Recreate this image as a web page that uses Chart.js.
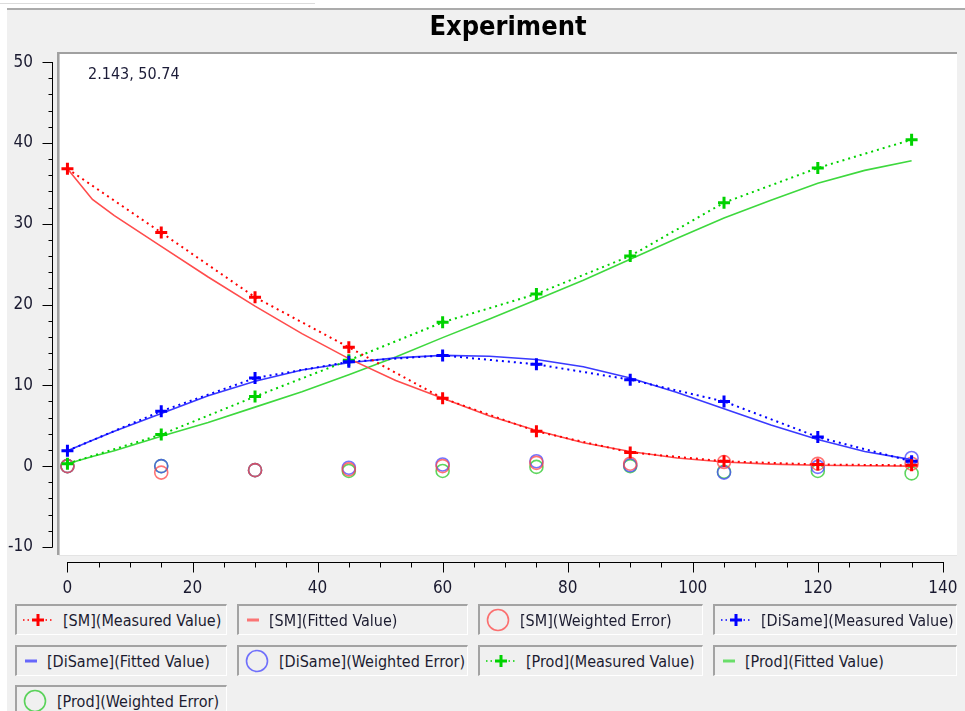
<!DOCTYPE html>
<html>
<head>
<meta charset="utf-8">
<script src="https://cdn.jsdelivr.net/npm/chart.js@4.4.1/dist/chart.umd.min.js"></script>
<style>
  html, body { margin: 0; padding: 0; background: #fff; }
  #wrap { position: relative; width: 965px; height: 711px; overflow: hidden; background: #fff; }
  #topline { position: absolute; left: 0; top: 3px; width: 315px; height: 1px; background: #dcdcdc; }
  #panel { position: absolute; left: 7px; top: 8px; width: 958px; height: 703px; background: #f0f0f0;
           border-top: 2px solid #ababab; box-sizing: border-box; }
  #chart { position: absolute; left: 0; top: 0; }
  .lg { position: absolute; box-sizing: border-box; height: 31px; background: #f0f0f0;
        border-top: 2px solid #a3a3a3; border-left: 2px solid #a3a3a3;
        border-right: 1px solid #ffffff; border-bottom: 1px solid #ffffff;
        display: flex; align-items: center; white-space: nowrap;
        font: 16px 'DejaVu Sans Condensed', 'Liberation Sans', sans-serif; color: #1c1c30; }
  .lg svg { flex: none; margin-right: 10px; }
</style>
</head>
<body>
<div id="wrap">
  <div id="topline"></div>
  <div id="panel"></div>
  <canvas id="chart" width="965" height="605"></canvas>
  <div id="legend"></div>
</div>
<script>
// Sampling times of the measurements
const measuredX = [0, 15, 30, 45, 60, 75, 90, 105, 120, 135];
// Time grid of the fitted model curves
const fitX = [0, 4, 7.5, 15, 22.5, 30, 37.5, 45, 52.5, 60, 67.5, 75, 82.5, 90, 97.5, 105, 112.5, 120, 127.5, 135];

// SM
const smMeasured = [36.8, 28.9, 20.9, 14.7, 8.4, 4.3, 1.7, 0.6, 0.2, 0.1];
const smFitted   = [36.8, 33.0, 31.0, 27.2, 23.4, 19.8, 16.4, 13.3, 10.6, 8.4, 6.2, 4.4, 2.9, 1.8, 1.0, 0.5, 0.25, 0.1, 0.05, 0.0];
const smError    = [0, -0.8, -0.5, -0.4, 0, 0.4, 0.3, 0.5, 0.3, 0.3];

// DiSame
const diMeasured = [1.9, 6.8, 10.9, 12.9, 13.7, 12.6, 10.7, 8.0, 3.6, 0.6];
const diFitted   = [1.9, 3.2, 4.3, 6.5, 8.7, 10.5, 11.9, 12.8, 13.4, 13.7, 13.6, 13.2, 12.3, 10.9, 9.1, 7.1, 5.1, 3.3, 1.8, 0.8];
const diError    = [0, 0, -0.5, -0.2, 0.2, 0.6, 0.1, -0.8, -0.1, 1.0];

// Prod
const prodMeasured = [0.3, 3.9, 8.6, 13.1, 17.8, 21.3, 26.0, 32.6, 36.9, 40.4];
const prodFitted   = [0.3, 1.2, 1.9, 3.7, 5.4, 7.3, 9.2, 11.3, 13.5, 15.9, 18.2, 20.6, 23.0, 25.6, 28.2, 30.7, 32.9, 35.0, 36.6, 37.8];
const prodError    = [0, 0, -0.5, -0.6, -0.6, -0.1, 0, -0.7, -0.6, -0.9];

// Axis ticks
const xTicks = [0, 20, 40, 60, 80, 100, 120, 140];
const yTicks = [-10, 0, 10, 20, 30, 40, 50];

const chartTitle = 'Experiment';
const cursorText = '2.143, 50.74';

const FONT = "'DejaVu Sans Condensed', 'Liberation Sans', sans-serif";

const pts = (xs, ys) => xs.map((x, i) => ({ x: x, y: ys[i] }));

function measured(label, ys, color) {
  return { label, data: pts(measuredX, ys), showLine: true, borderColor: color, backgroundColor: color,
    borderWidth: 2, borderDash: [2, 4], pointStyle: 'cross', pointRadius: 6, pointBorderWidth: 3,
    pointBorderColor: color, pointHoverRadius: 6, tension: 0, order: 0, kind: 'cross' };
}
function fitted(label, ys, color) {
  return { label, data: pts(fitX, ys), showLine: true, borderColor: color, backgroundColor: color,
    borderWidth: 1.6, pointRadius: 0, pointHoverRadius: 0, tension: 0, order: 1, kind: 'line' };
}
function werror(label, ys, color) {
  return { label, data: pts(measuredX, ys), showLine: false, borderColor: color, backgroundColor: 'rgba(0,0,0,0)',
    pointStyle: 'circle', pointRadius: 6.5, pointBorderWidth: 1.6, pointBorderColor: color,
    pointBackgroundColor: 'rgba(0,0,0,0)', pointHoverRadius: 6.5, order: 2, kind: 'circle' };
}

const datasets = [
  measured('[SM](Measured Value)', smMeasured, '#ff0000'),
  fitted('[SM](Fitted Value)', smFitted, '#ff4c4c'),
  werror('[SM](Weighted Error)', smError, 'rgba(255,70,70,0.75)'),
  measured('[DiSame](Measured Value)', diMeasured, '#0000ff'),
  fitted('[DiSame](Fitted Value)', diFitted, '#3a3aff'),
  werror('[DiSame](Weighted Error)', diError, 'rgba(70,70,255,0.75)'),
  measured('[Prod](Measured Value)', prodMeasured, '#00d200'),
  fitted('[Prod](Fitted Value)', prodFitted, '#3ed83e'),
  werror('[Prod](Weighted Error)', prodError, 'rgba(40,200,40,0.75)')
];

// Frame, axis lines, tick marks and the cursor read-out
const framePlugin = {
  id: 'frame',
  beforeDatasetsDraw(chart) {
    const { ctx, chartArea: a } = chart;
    ctx.save();
    ctx.fillStyle = '#ffffff';
    ctx.fillRect(a.left, a.top, a.right - a.left + 1, a.bottom - a.top);
    ctx.fillStyle = '#a0a0a0';
    ctx.fillRect(a.left - 3, a.top - 2, a.right - a.left + 4, 2);
    ctx.fillRect(a.left - 3, a.top - 2, 2, a.bottom - a.top + 2);
    ctx.fillStyle = '#c8c8c8';
    ctx.fillRect(a.left - 1, a.top, 1, a.bottom - a.top);
    ctx.fillStyle = '#e4e4e4';
    ctx.fillRect(a.left - 1, a.bottom, a.right - a.left + 2, 1);
    ctx.restore();
  },
  afterDraw(chart) {
    const { ctx, chartArea: a, scales: { x, y } } = chart;
    ctx.save();
    ctx.strokeStyle = '#000000';
    ctx.lineWidth = 1;
    // vertical axis
    const ax = a.left - 7.5;
    const y0 = y.getPixelForValue(yTicks[0]);
    const y1 = y.getPixelForValue(yTicks[yTicks.length - 1]);
    ctx.beginPath();
    ctx.moveTo(ax, Math.round(y0) + 0.5);
    ctx.lineTo(ax, Math.round(y1));
    for (let v = yTicks[0]; v <= yTicks[yTicks.length - 1]; v += 2) {
      const py = Math.round(y.getPixelForValue(v)) + 0.5;
      const len = (v % 10 === 0) ? 10 : 4;
      ctx.moveTo(ax, py);
      ctx.lineTo(ax - len, py);
    }
    // horizontal axis
    const ay = a.bottom + 7.5;
    const x0 = x.getPixelForValue(xTicks[0]);
    const x1 = x.getPixelForValue(xTicks[xTicks.length - 1]);
    ctx.moveTo(Math.round(x0), ay);
    ctx.lineTo(Math.round(x1) + 1, ay);
    for (let v = xTicks[0]; v <= xTicks[xTicks.length - 1]; v += 5) {
      const px = Math.round(x.getPixelForValue(v)) + 0.5;
      const len = (v % 20 === 0) ? 10 : 5;
      ctx.moveTo(px, ay);
      ctx.lineTo(px, ay + len);
    }
    ctx.stroke();
    // cursor position read-out
    ctx.fillStyle = '#1c1c38';
    ctx.font = '16px ' + FONT;
    ctx.textBaseline = 'alphabetic';
    ctx.fillText(cursorText, a.left + 28, a.top + 25);
    ctx.restore();
  }
};

const tickFont = { family: FONT, size: 17 };

new Chart(document.getElementById('chart'), {
  type: 'scatter',
  data: { datasets },
  options: {
    responsive: false,
    animation: false,
    devicePixelRatio: 1,
    events: [],
    layout: { padding: { left: 0, right: 1, top: 0, bottom: 0 } },
    plugins: {
      legend: { display: false },
      tooltip: { enabled: false },
      title: {
        display: true, text: chartTitle, fullSize: false, color: '#000000',
        font: { family: FONT, size: 27, weight: 'bold', lineHeight: 1.2 },
        padding: { top: 12, bottom: 9.6 }
      }
    },
    scales: {
      x: {
        type: 'linear', min: -1.19, max: 142.1, offset: false,
        grid: { display: false, drawTicks: false },
        border: { display: false },
        ticks: { font: tickFont, color: '#1a1a30', padding: 23, autoSkip: false, maxRotation: 0, minRotation: 0 },
        afterBuildTicks(s) { s.ticks = xTicks.map(v => ({ value: v })); },
        afterFit(s) { s.height = 50; s.paddingLeft = 0; s.paddingRight = 0; }
      },
      y: {
        type: 'linear', min: -11, max: 51, offset: false,
        grid: { display: false, drawTicks: false },
        border: { display: false },
        ticks: { font: tickFont, color: '#1a1a30', padding: 27, autoSkip: false },
        afterBuildTicks(s) { s.ticks = yTicks.map(v => ({ value: v })); },
        afterFit(s) { s.width = 60; s.paddingTop = 0; s.paddingBottom = 0; }
      }
    }
  },
  plugins: [framePlugin]
});

// Legend boxes below the plot
const legendCols = [[15, 212], [237, 231], [478, 225], [713, 244]];
const legendRows = [604, 645, 685];

function symbolSvg(ds) {
  const c = ds.kind === 'circle' ? ds.pointBorderColor : ds.borderColor;
  if (ds.kind === 'cross') {
    return '<svg width="30" height="22" viewBox="0 0 30 22">' +
      '<line x1="0" y1="11" x2="30" y2="11" stroke="' + c + '" stroke-width="1.5" stroke-dasharray="1.5 3"/>' +
      '<line x1="9" y1="11" x2="21" y2="11" stroke="' + c + '" stroke-width="3"/>' +
      '<line x1="15" y1="5" x2="15" y2="17" stroke="' + c + '" stroke-width="3"/></svg>';
  }
  if (ds.kind === 'line') {
    return '<svg width="12" height="22" viewBox="0 0 12 22" style="margin-left:2px">' +
      '<line x1="0" y1="11" x2="12" y2="11" stroke="' + c + '" stroke-opacity="0.75" stroke-width="3"/></svg>';
  }
  return '<svg width="24" height="24" viewBox="0 0 24 24">' +
    '<circle cx="12" cy="12" r="10.5" fill="none" stroke="' + c + '" stroke-width="1.6"/></svg>';
}

const legendEl = document.getElementById('legend');
datasets.forEach((ds, i) => {
  const col = legendCols[i % 4];
  const row = legendRows[Math.floor(i / 4)];
  const box = document.createElement('div');
  box.className = 'lg';
  box.style.left = col[0] + 'px';
  box.style.top = row + 'px';
  box.style.width = col[1] + 'px';
  box.style.paddingLeft = '6px';
  box.innerHTML = symbolSvg(ds) + '<span>' + ds.label + '</span>';
  legendEl.appendChild(box);
});
</script>
</body>
</html>
